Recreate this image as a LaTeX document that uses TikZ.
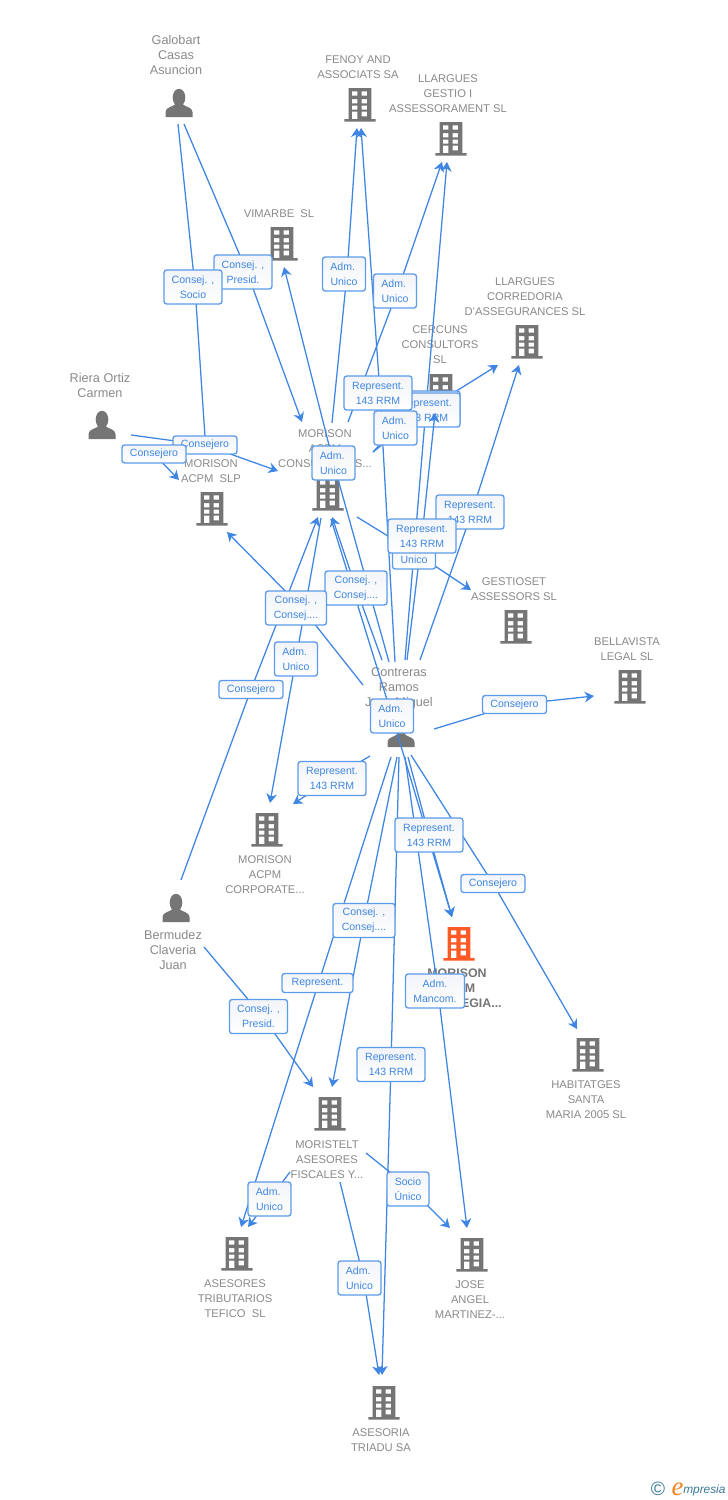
\documentclass[tikz,border=0pt]{standalone}
\usepackage{fontspec}
\setmainfont{Liberation Sans}
\newfontfamily\logofont{Liberation Serif}
\usetikzlibrary{arrows.meta}
\pgfdeclarelayer{back}\pgfdeclarelayer{over}\pgfdeclarelayer{top}
\pgfsetlayers{back,main,over,top}
\definecolor{linkblue}{HTML}{3F86E4}
\definecolor{boxline}{HTML}{5C9BEA}
\definecolor{boxtext}{HTML}{3E86E0}
\definecolor{nodetext}{HTML}{8A8A8A}
\definecolor{iconcol}{HTML}{757575}
\definecolor{mainorange}{HTML}{FF5A26}
\definecolor{logoteal}{HTML}{3A7A99}
\definecolor{logoorange}{HTML}{F58220}
\definecolor{boxtop}{HTML}{F2F4F8}
\tikzset{
  edge/.style={draw=linkblue,line width=0.95pt,line join=round,-{Stealth[length=7pt,width=8pt,inset=2.2pt]}},
  lab/.style={draw=boxline,line width=1pt,rounded corners=2pt,top color=boxtop,bottom color=white,
    text=boxtext,align=center,inner sep=0pt,font=\fontsize{7.9}{11.25}\selectfont},
  comp/.style={text=nodetext,align=center,inner sep=0pt,font=\fontsize{8.4}{11.25}\selectfont},
  pers/.style={text=nodetext,align=center,inner sep=0pt,font=\fontsize{9.5}{11.25}\selectfont},
  mainlab/.style={text=nodetext!85!black,align=center,inner sep=0pt,font=\fontsize{9.3}{11.25}\selectfont\bfseries},
}
% a labelled box: name, x, y, width, height, text
\newcommand\boxl[6]{\node[lab,minimum width=#4*0.75pt,minimum height=#5*0.75pt] (#1) at (#2,#3) {#6};}
% a connector: [sideways offset behind its box], name, start, box on the way, end
\newcommand\lnk[5][0]{\coordinate (#2-s) at (#3);\coordinate (#2-e) at (#5);\draw[edge] (#2-s) -- ([xshift=#1*0.75pt]#4.center) -- (#2-e);}
% a building icon: name, x, y, colour
\newcommand\bldg[4]{\node[inner sep=0pt,minimum width=24pt,minimum height=25pt] (#1) at (#2,#3) {};
  \fill[#4,even odd rule,shift={(#2,#3)}]
    (-11.4,-17) rectangle (11.4,14) (-15.6,14) rectangle (15.6,16.6)
    (-8.2,-13.7) rectangle (-2.7,-9.3) (1.7,-13.7) rectangle (7.2,-9.3)
    (-8.2,-6) rectangle (-2.7,-1.7) (1.7,-6) rectangle (7.2,-1.7)
    (-8.2,0.7) rectangle (-2.7,4.7) (1.7,0.7) rectangle (7.2,4.7)
    (-8.2,6.7) rectangle (-2.7,14) (1.7,6.7) rectangle (7.2,11.3);}
% a person icon: name, x, y
\newcommand\persn[3]{\node[inner sep=0pt,minimum width=20pt,minimum height=21pt] (#1) at (#2,#3) {};
  \fill[iconcol,shift={(#2,#3)}] (0,-5.5) ellipse[x radius=6.3,y radius=8.7];
  \fill[iconcol,shift={(#2,#3)}] (-13.5,14) -- (-13.5,9) .. controls (-13.5,4) and (-6,4) .. (-3.5,1) -- (3.5,1) .. controls (6,4) and (13.5,4) .. (13.5,9) -- (13.5,14) -- cycle;}
\begin{document}
\begin{tikzpicture}[x=0.75pt,y=-0.75pt]
\useasboundingbox (0,0) rectangle (728,1500);
\begin{pgfonlayer}{back}
\fill[white] (0,0) rectangle (728,1500);
% icons
\persn{galobart}{179}{103}
\persn{riera}{102}{425}
\persn{bermudez}{176}{908}
\persn{contreras}{401}{733}
\bldg{fenoy}{360}{105}{iconcol}
\bldg{llgestio}{451}{139}{iconcol}
\bldg{vimarbe}{282}{244}{iconcol}
\bldg{llcorr}{527}{342}{iconcol}
\bldg{cercuns}{441}{391}{iconcol}
\bldg{slp}{212}{509}{iconcol}
\bldg{cons}{328}{494}{iconcol}
\bldg{gestioset}{516}{627}{iconcol}
\bldg{bellavista}{630}{687}{iconcol}
\bldg{corporate}{267}{830}{iconcol}
\bldg{estrategia}{459}{944}{mainorange}
\bldg{habitatges}{588}{1055}{iconcol}
\bldg{moristelt}{330}{1114}{iconcol}
\bldg{tefico}{237}{1254}{iconcol}
\bldg{jose}{472}{1255}{iconcol}
\bldg{triadu}{384}{1403}{iconcol}
% texts
\node[pers] (t-gal) at (176,55) {Galobart\\Casas\\Asuncion};
\node[pers] (t-rie) at (100,385.5) {Riera Ortiz\\Carmen};
\node[pers] (t-ber) at (173,950) {Bermudez\\Claveria\\Juan};
\node[pers] (t-con) at (399,688) {Contreras\\Ramos\\Jose Miguel};
\node[comp] (t-fen) at (358,67.5) {FENOY AND\\ASSOCIATS SA};
\node[comp] (t-llg) at (448,94) {LLARGUES\\GESTIO I\\ASSESSORAMENT SL};
\node[comp] (t-vim) at (279,214) {VIMARBE\ \ SL};
\node[comp] (t-llc) at (525,297) {LLARGUES\\CORREDORIA\\D'ASSEGURANCES SL};
\node[comp] (t-cer) at (440,345) {CERCUNS\\CONSULTORS\\SL};
\node[comp] (t-slp) at (211,471.5) {MORISON\\ACPM\ \ SLP};
\node[comp] (t-cns) at (325,449) {MORISON\\ACPM\\CONSULTORES...};
\node[comp] (t-ges) at (514,589.5) {GESTIOSET\\ASSESSORS SL};
\node[comp] (t-bel) at (627,649.5) {BELLAVISTA\\LEGAL SL};
\node[comp] (t-cor) at (265,875) {MORISON\\ACPM\\CORPORATE...};
\node[mainlab] (t-est) at (457,988) {MORISON\\ACPM\\ESTRATEGIA...};
\node[comp] (t-hab) at (586,1100) {HABITATGES\\SANTA\\MARIA 2005 SL};
\node[comp] (t-mor) at (327,1160) {MORISTELT\\ASESORES\\FISCALES Y...};
\node[comp] (t-tef) at (235,1299) {ASESORES\\TRIBUTARIOS\\TEFICO\ \ SL};
\node[comp] (t-jos) at (470,1300) {JOSE\\ANGEL\\MARTINEZ-...};
\node[comp] (t-tri) at (381,1440.5) {ASESORIA\\TRIADU SA};
% logo
\node[inner sep=0pt,text=logoteal,font=\fontsize{14.5}{14.5}\selectfont] (logo-c) at (658,1489) {©};
\node[inner sep=0pt,anchor=base,text=logoorange,font=\logofont\itshape\fontsize{20}{20}\selectfont] (logo-e) at (677.5,1495) {e};
\node[inner sep=0pt,anchor=base west,text=logoteal,font=\itshape\fontsize{8.9}{10}\selectfont] (logo-t) at (683,1493) {mpresia};
\end{pgfonlayer}
% boxes
\boxl{l1}{243}{272}{58}{34}{Consej. ,\\Presid.}
\boxl{l2}{193}{287}{58}{34}{Consej. ,\\Socio}
\boxl{l3}{344}{274}{43}{34}{Adm.\hspace*{2pt}\\Unico}
\boxl{l4}{395}{291}{43}{34}{Adm.\hspace*{2pt}\\Unico}
\boxl{l6a}{426}{408}{68}{34}{Represent.\\143 RRM}
\boxl{l6b}{426}{410}{68}{34}{Represent.\\143 RRM}
\boxl{l5}{378}{393}{68}{34}{Represent.\\143 RRM}
\boxl{l7}{395.5}{428}{43}{34}{Adm.\hspace*{2pt}\\Unico}
\boxl{l9}{205}{445}{64}{18}{Consejero}
\boxl{l10}{154}{454}{64}{18}{Consejero}
\boxl{l8}{333.5}{463}{43}{34}{Adm.\hspace*{2pt}\\Unico}
\boxl{l11}{470}{512}{68}{34}{Represent.\\143 RRM}
\boxl{l14}{356}{588}{62}{34}{Consej. ,\\Consej....}
\boxl{l15}{296}{608}{61}{34}{Consej. ,\\Consej....}
\boxl{l16}{296}{659}{43}{34}{Adm.\hspace*{2pt}\\Unico}
\boxl{l17}{251}{689.5}{64}{18}{Consejero}
\boxl{l18}{392}{716}{43}{34}{Adm.\hspace*{2pt}\\Unico}
\boxl{l19}{514.5}{704.5}{64}{18}{Consejero}
\boxl{l20}{332}{778.5}{68}{34}{Represent.\\143 RRM}
\boxl{l21}{429}{835}{68}{34}{Represent.\\143 RRM}
\boxl{l22}{493}{883.5}{64}{18}{Consejero}
\boxl{l23}{364}{920.5}{62}{34}{Consej. ,\\Consej....}
\boxl{l24}{317.5}{983}{71}{19}{Represent.}
\boxl{l25}{435}{991}{59}{34}{Adm.\\Mancom.}
\boxl{l26}{258.5}{1016.5}{58}{34}{Consej. ,\\Presid.}
\boxl{l27}{391}{1064.5}{68}{34}{Represent.\\143 RRM}
\boxl{l28}{269.5}{1199}{43}{34}{Adm.\hspace*{2pt}\\Unico}
\boxl{l29}{408}{1189}{42}{34}{Socio\\Único}
\boxl{l30}{359.5}{1278}{43}{34}{Adm.\hspace*{2pt}\\Unico}
\begin{pgfonlayer}{top}
\boxl{l13}{414}{552}{43}{34}{Adm.\hspace*{2pt}\\Unico}
\boxl{l12}{422}{536}{68}{34}{Represent.\\143 RRM}
\end{pgfonlayer}
% connectors
\begin{pgfonlayer}{back}
\lnk[2]{e1}{178,124}{l2}{206,452}
\lnk[4]{e2}{184,124}{l1}{302,422}
\lnk{e3}{131,435}{l9}{278,471}
\lnk{e4}{130,447}{l10}{179,480}
\lnk[3]{e5}{332,423}{l3}{357,128}
\lnk[2.5]{e6}{348,422}{l4}{442,162}
\lnk[2]{e7}{395,662}{l5}{361,128}
\lnk{e8}{373,452}{l7}{419,404}
\lnk{e9}{373,452}{l6b}{498,365}
\lnk{e10}{405,660}{l6a}{447,162}
\lnk[2]{e12}{420,660}{l11}{519,365}
\lnk{e13}{357,517}{l13}{471,590}
\lnk{e14}{389,662}{l8}{284,267}
\lnk[6]{e15}{363,685}{l15}{227,532}
\lnk{e16}{181,880}{l17}{318,517}
\lnk{e17}{382,660}{l14}{332,517}
\lnk{e18}{331,519}{l18}{452,917}
\lnk{e19}{408,757}{l21}{452,917}
\lnk{e20}{321,518}{l16}{270,803}
\lnk{e21}{370,756}{l20}{293,804}
\lnk{e22}{434,729}{l19}{594,696}
\lnk{e23}{411,755}{l22}{577,1029}
\lnk[1]{e24}{391,757}{l24}{241,1227}
\lnk{e25}{397,757}{l23}{332,1087}
\lnk{e26}{399,757}{l27}{382,1375}
\lnk[3]{e27}{405,757}{l25}{467,1228}
\lnk[4]{e28}{204,947}{l26}{313,1087}
\lnk{e29}{290,1172}{l28}{248,1227}
\lnk[3]{e30}{366,1153}{l29}{450,1228}
\lnk[4]{e31}{340,1182}{l30}{379,1375}
\end{pgfonlayer}
\begin{pgfonlayer}{over}
\lnk{e11}{407,660}{l12}{435,413}
\end{pgfonlayer}
\end{tikzpicture}
\end{document}
